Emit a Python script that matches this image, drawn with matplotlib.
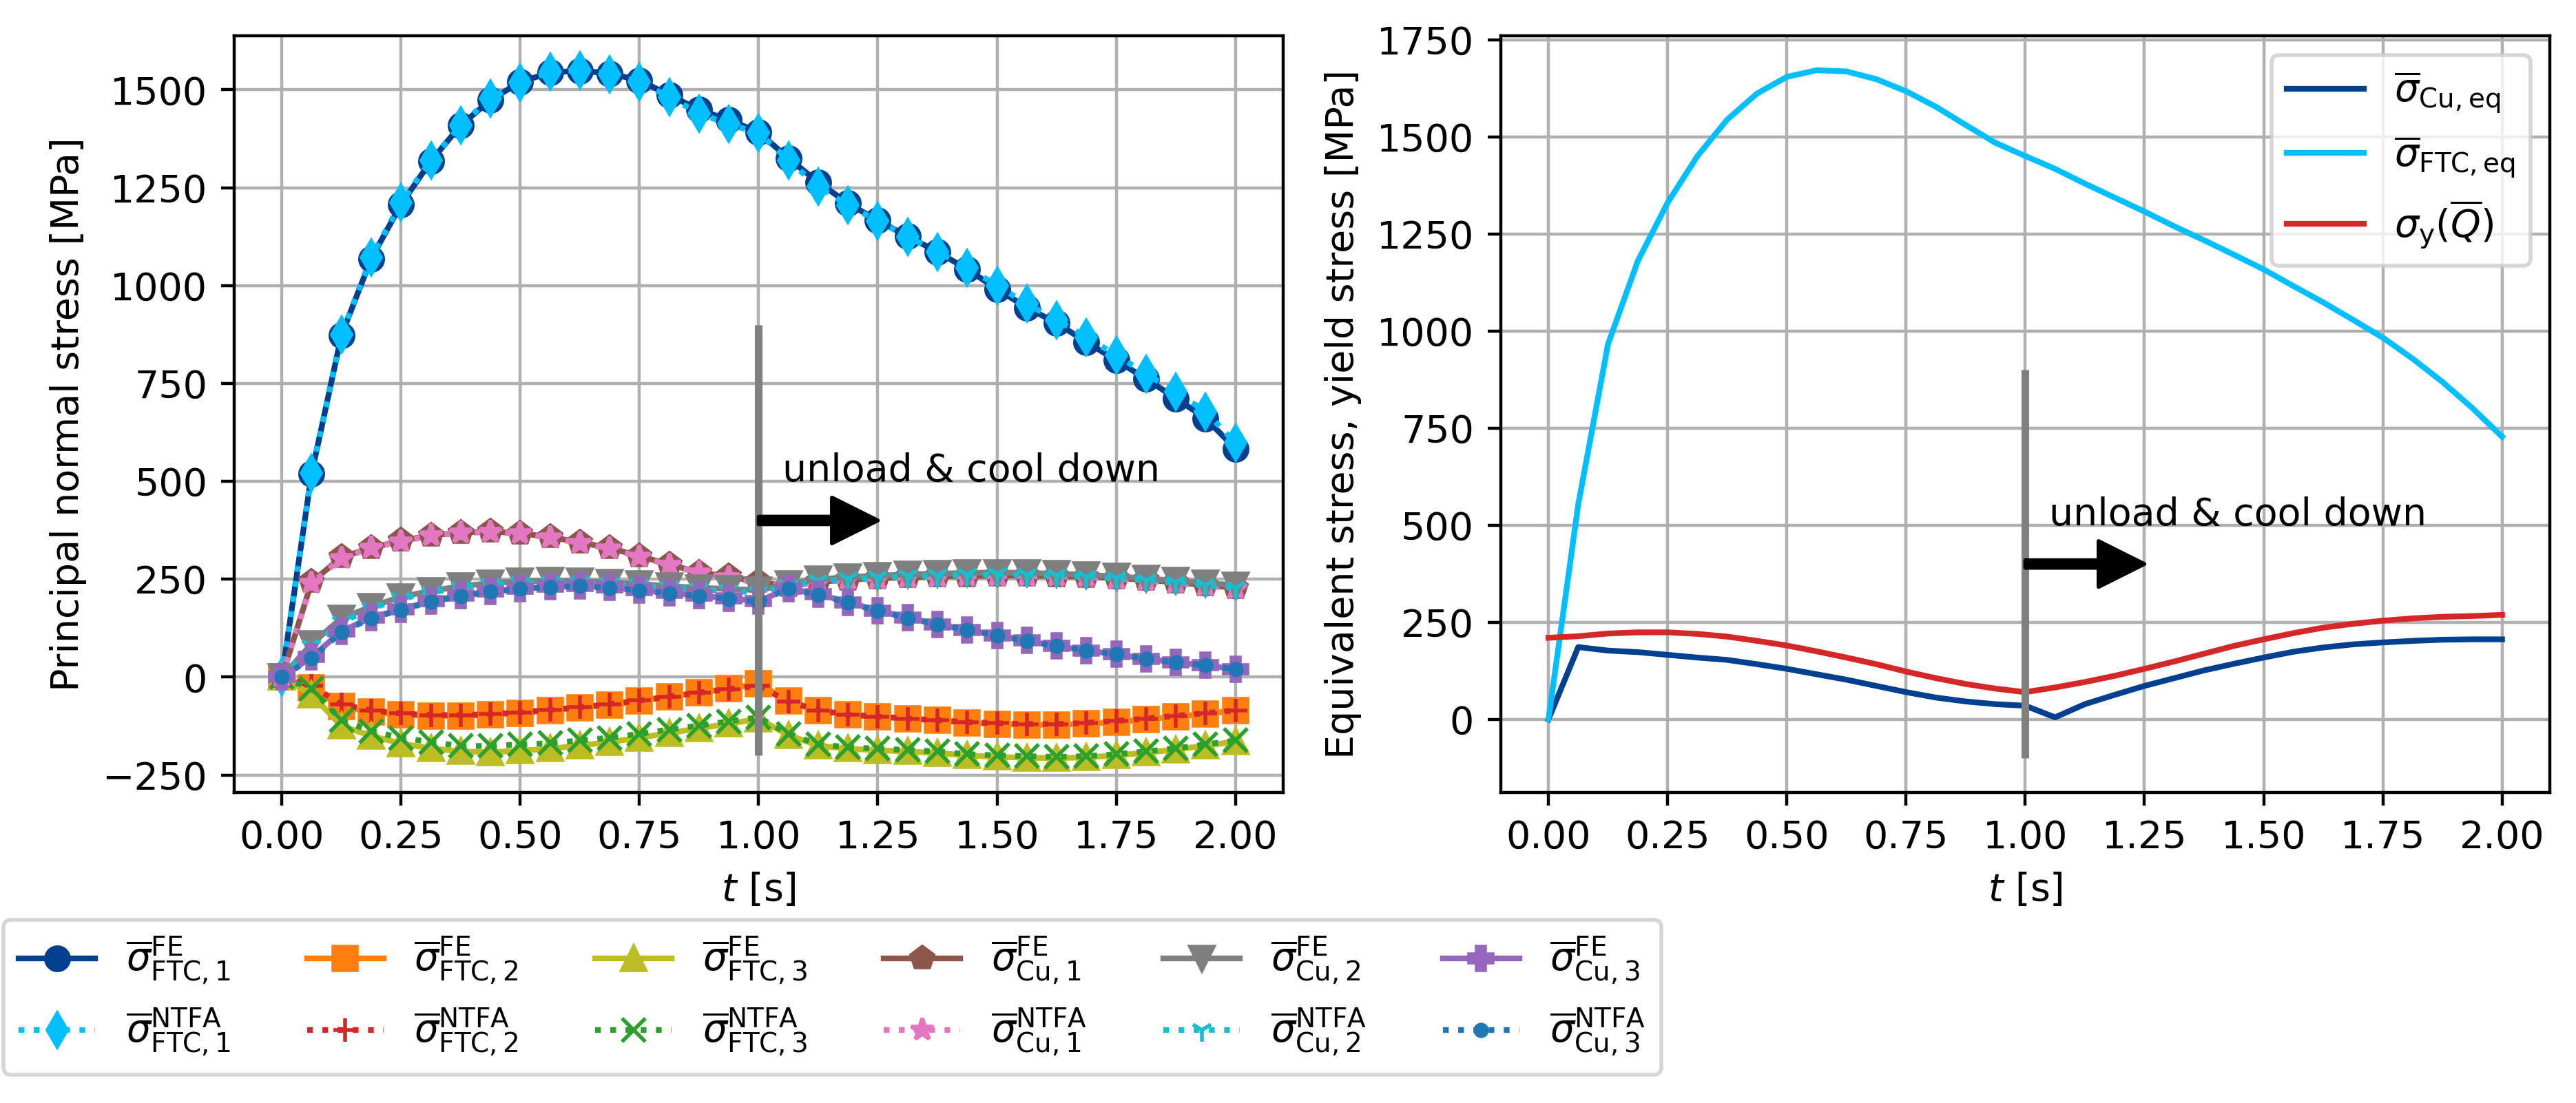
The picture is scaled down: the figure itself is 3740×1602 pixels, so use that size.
import matplotlib
matplotlib.use("Agg")
import matplotlib.pyplot as plt

# time steps [s]
t = [0.0, 0.0625, 0.125, 0.1875, 0.25, 0.3125, 0.375, 0.4375, 0.5, 0.5625, 0.625,
     0.6875, 0.75, 0.8125, 0.875, 0.9375, 1.0, 1.0625, 1.125, 1.1875, 1.25, 1.3125,
     1.375, 1.4375, 1.5, 1.5625, 1.625, 1.6875, 1.75, 1.8125, 1.875, 1.9375, 2.0]

# principal normal stresses [MPa]
ftc1_fe = [0, 520, 873, 1069, 1207, 1318, 1409, 1474, 1520, 1544, 1549, 1542, 1524, 1487, 1449, 1423, 1392,
           1325, 1264, 1210, 1166, 1126, 1086, 1042, 991, 944, 904, 856, 809, 762, 712, 661, 583]
ftc1_ntfa = [0, 522, 875, 1072, 1212, 1320, 1410, 1478, 1518, 1546, 1550, 1540, 1520, 1482, 1440, 1412, 1390,
             1320, 1252, 1205, 1165, 1125, 1086, 1046, 1000, 953, 912, 868, 822, 775, 728, 678, 598]
ftc2_fe = [0, -28, -75, -89, -96, -99, -99, -96, -92, -85, -78, -71, -61, -50, -40, -29, -17,
           -61, -85, -96, -101, -106, -111, -117, -120, -122, -122, -119, -115, -108, -101, -94, -85]
ftc2_ntfa = [0, -22, -70, -85, -93, -97, -97, -95, -90, -84, -77, -69, -60, -50, -40, -31, -22,
             -63, -85, -96, -101, -106, -110, -115, -118, -120, -120, -117, -112, -106, -99, -92, -85]
ftc3_fe = [0, -45, -125, -150, -170, -182, -190, -192, -188, -183, -175, -166, -155, -143, -131, -119, -107,
           -148, -175, -183, -187, -190, -194, -200, -204, -206, -207, -205, -200, -193, -185, -175, -165]
ftc3_ntfa = [0, -30, -110, -138, -155, -166, -176, -176, -172, -169, -162, -155, -145, -134, -124, -113, -103,
             -145, -172, -179, -183, -186, -190, -197, -200, -202, -204, -202, -197, -190, -182, -172, -162]
cu1_fe = [0, 243, 306, 330, 348, 362, 369, 372, 367, 358, 344, 330, 309, 288, 267, 257, 243,
          232, 243, 249, 252, 255, 257, 258, 259, 259, 258, 256, 253, 248, 242, 235, 228]
cu1_ntfa = [0, 240, 303, 330, 346, 361, 368, 370, 366, 356, 342, 328, 307, 286, 266, 254, 240,
            233, 242, 248, 251, 254, 256, 257, 258, 258, 257, 255, 251, 246, 240, 233, 226]
cu2_fe = [0, 85, 150, 180, 205, 220, 232, 240, 245, 246, 245, 242, 238, 232, 228, 225, 222,
          238, 250, 255, 259, 262, 264, 266, 267, 266, 264, 261, 257, 252, 246, 240, 235]
cu2_ntfa = [0, 78, 140, 175, 200, 216, 228, 236, 240, 242, 241, 238, 234, 229, 224, 220, 216,
            233, 245, 250, 254, 257, 259, 261, 262, 261, 259, 256, 252, 247, 241, 234, 228]
cu3_fe = [0, 51, 117, 152, 173, 194, 208, 219, 226, 231, 233, 229, 222, 215, 208, 201, 194,
          226, 212, 191, 170, 152, 135, 121, 107, 93, 79, 68, 58, 47, 37, 30, 20]
cu3_ntfa = [0, 48, 115, 150, 172, 192, 207, 218, 225, 230, 232, 228, 221, 214, 207, 200, 193,
            225, 210, 190, 169, 151, 134, 120, 106, 92, 79, 68, 58, 47, 37, 30, 20]

# equivalent / yield stresses [MPa]
cu_eq = [0, 186, 177, 173, 166, 159, 153, 142, 130, 116, 102, 86, 70, 56, 46, 39, 35,
         5, 39, 63, 86, 106, 126, 143, 159, 174, 185, 193, 198, 202, 205, 206, 206]
ftc_eq = [0, 554, 967, 1181, 1331, 1451, 1545, 1612, 1655, 1672, 1669, 1649, 1618, 1578, 1531, 1485, 1451,
          1418, 1380, 1344, 1308, 1270, 1234, 1197, 1159, 1116, 1074, 1029, 983, 929, 869, 802, 728]
sig_y = [210, 214, 221, 224, 224, 220, 213, 202, 190, 175, 159, 142, 123, 106, 91, 79, 70,
         82, 96, 112, 130, 149, 169, 189, 206, 222, 236, 246, 254, 260, 264, 266, 269]

dark_blue = "#00408f"
sky_blue = "#00bfff"

series = [
    (ftc1_fe, dict(color=dark_blue, marker="o", ls="-"), r"$\overline{\sigma}^{\mathrm{FE}}_{\mathrm{FTC,1}}$"),
    (ftc1_ntfa, dict(color=sky_blue, marker="d", ls=":"), r"$\overline{\sigma}^{\mathrm{NTFA}}_{\mathrm{FTC,1}}$"),
    (ftc2_fe, dict(color="tab:orange", marker="s", ls="-"), r"$\overline{\sigma}^{\mathrm{FE}}_{\mathrm{FTC,2}}$"),
    (ftc2_ntfa, dict(color="tab:red", marker="+", ls=":"), r"$\overline{\sigma}^{\mathrm{NTFA}}_{\mathrm{FTC,2}}$"),
    (ftc3_fe, dict(color="tab:olive", marker="^", ls="-"), r"$\overline{\sigma}^{\mathrm{FE}}_{\mathrm{FTC,3}}$"),
    (ftc3_ntfa, dict(color="tab:green", marker="x", ls=":"), r"$\overline{\sigma}^{\mathrm{NTFA}}_{\mathrm{FTC,3}}$"),
    (cu1_fe, dict(color="tab:brown", marker="p", ls="-"), r"$\overline{\sigma}^{\mathrm{FE}}_{\mathrm{Cu,1}}$"),
    (cu1_ntfa, dict(color="tab:pink", marker="*", ls=":"), r"$\overline{\sigma}^{\mathrm{NTFA}}_{\mathrm{Cu,1}}$"),
    (cu2_fe, dict(color="tab:gray", marker="v", ls="-"), r"$\overline{\sigma}^{\mathrm{FE}}_{\mathrm{Cu,2}}$"),
    (cu2_ntfa, dict(color="tab:cyan", marker="1", ls=":"), r"$\overline{\sigma}^{\mathrm{NTFA}}_{\mathrm{Cu,2}}$"),
    (cu3_fe, dict(color="tab:purple", marker="P", ls="-"), r"$\overline{\sigma}^{\mathrm{FE}}_{\mathrm{Cu,3}}$"),
    (cu3_ntfa, dict(color="tab:blue", marker=".", ls=":"), r"$\overline{\sigma}^{\mathrm{NTFA}}_{\mathrm{Cu,3}}$"),
]

fig = plt.figure(figsize=(9.35, 4.005), dpi=400)
ax1 = fig.add_axes([0.0909, 0.2815, 0.4072, 0.6860])
ax2 = fig.add_axes([0.5826, 0.2815, 0.4072, 0.6860])

handles = []
for vals, style, lab in series:
    h, = ax1.plot(t, vals, label=lab, **style)
    handles.append(h)

ax1.vlines(1.0, -200, 900, color="grey", lw=2)
ax1.annotate("", xy=(1.25, 400), xytext=(1.0, 400),
             arrowprops=dict(facecolor="black", width=2.0, headwidth=12, headlength=12, shrink=0))
ax1.text(1.05, 500, "unload & cool down")
ax1.set_xlabel(r"$t$ [s]")
ax1.set_ylabel("Principal normal stress [MPa]")
ax1.grid(True)

ax2.plot(t, cu_eq, color=dark_blue, label=r"$\overline{\sigma}_{\mathrm{Cu,eq}}$")
ax2.plot(t, ftc_eq, color=sky_blue, label=r"$\overline{\sigma}_{\mathrm{FTC,eq}}$")
ax2.plot(t, sig_y, color="tab:red", label=r"$\sigma_{\mathrm{y}}(\overline{Q})$")
ax2.vlines(1.0, -100, 900, color="grey", lw=2)
ax2.annotate("", xy=(1.25, 400), xytext=(1.0, 400),
             arrowprops=dict(facecolor="black", width=2.0, headwidth=12, headlength=12, shrink=0))
ax2.text(1.05, 500, "unload & cool down")
ax2.set_xlabel(r"$t$ [s]")
ax2.set_ylabel("Equivalent stress, yield stress [MPa]")
ax2.grid(True)
ax2.legend(loc="upper right")

fig.legend(handles=handles, ncol=6, loc="upper left",
           bbox_to_anchor=(0.0013, 0.166), borderaxespad=0)

fig.savefig("out.png", dpi=400)
